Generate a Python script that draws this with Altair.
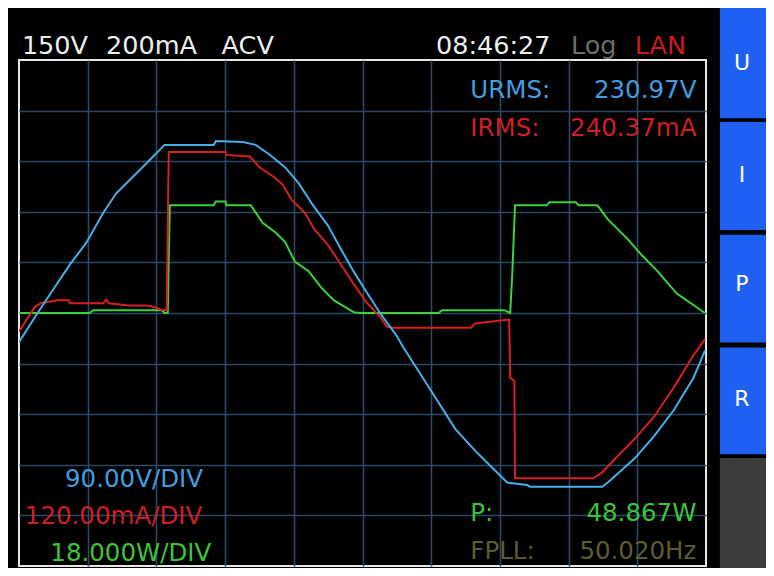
import altair as alt
import pandas as pd

# ---- scope settings (per division) ----
T_PER_DIV = 2.0      # ms / div
U_PER_DIV = 90.0     # V / div
I_PER_DIV = 120.0    # mA / div
P_PER_DIV = 18.0     # W / div

# ---- voltage trace (ms, V) ----
T_U = [0.0, 0.54, 1.03, 1.48, 1.97, 2.45, 2.82, 3.11, 3.48, 3.87, 4.24, 5.67, 5.73, 6.52,
       6.89, 7.29, 7.75, 8.15, 8.52, 9.00, 9.37, 9.74, 10.14, 10.51, 11.00, 11.17, 11.94,
       12.71, 13.36, 14.22, 14.79, 14.87, 16.98, 17.15, 17.92, 18.49, 19.06, 19.63, 19.97]
U_V = [-52, 0, 45, 86, 126, 178, 212, 230, 252, 276, 299, 299, 306, 304,
       299, 282, 259, 230, 195, 155, 114, 74, 35, 0, -41, -59, -133,
       -207, -250, -302, -306, -309, -309, -301, -259, -219, -173, -116, -67]

# ---- current trace (ms, mA) ----
T_I = [0.0, 0.46, 0.63, 1.11, 1.45, 1.48, 2.45, 2.54, 2.62, 3.19, 3.68, 3.87, 4.16, 4.24,
       4.30, 4.36, 6.01, 6.04, 6.72, 7.01, 7.38, 7.66, 7.95, 8.32, 8.60, 9.00, 9.37, 9.74,
       10.14, 10.51, 10.71, 10.88, 13.16, 13.28, 14.22, 14.27, 14.30, 14.42, 14.44, 16.72,
       16.98, 17.36, 17.92, 18.49, 19.06, 19.63, 19.97]
I_MA = [-44, 14, 23, 30, 30, 23, 23, 32, 23, 18, 18, 16, 7, 7,
        7, 382, 382, 375, 371, 345, 325, 306, 267, 238, 198, 161, 115, 69,
        23, -9, -32, -35, -35, -25, -16, -16, -154, -161, -392, -392,
        -378, -345, -299, -246, -177, -101, -62]

# ---- power trace (ms, W) ----
T_P = [0.0, 2.05, 2.17, 4.16, 4.24, 4.33, 4.39, 5.67, 5.73, 6.01, 6.04, 6.75, 7.09, 7.46,
       7.75, 8.03, 8.43, 8.80, 9.17, 9.74, 9.94, 12.22, 12.31, 14.13, 14.30, 14.36, 14.44,
       15.36, 15.44, 16.21, 16.30, 16.84, 17.15, 17.72, 18.12, 18.58, 19.15, 19.97]
P_W = [0, 0, 1.0, 1.0, 0, 0, 38.3, 38.3, 39.7, 39.7, 38.3, 38.3, 32.1, 28.7,
       25.2, 18.3, 14.9, 9.0, 4.5, 0.3, 0, 0, 1.0, 1.0, 0, 13.8, 38.3,
       38.3, 39.4, 39.4, 38.3, 38.3, 33.2, 26.3, 20.7, 15.0, 6.9, 0]

BLUE = "#46aeea"
RED = "#d61f1f"
GREEN = "#3ad43a"
BLUE_TXT = "#3f9fe0"
RED_TXT = "#cf1f25"
GREEN_TXT = "#3cc43c"
OLIVE_TXT = "#5e5c30"
GRID = "#2b4966"
FONT = "DejaVu Sans"

rows = []
for name, ts, vs, per in (("P", T_P, P_W, P_PER_DIV),
                          ("I", T_I, I_MA, I_PER_DIV),
                          ("U", T_U, U_V, U_PER_DIV)):
    for k, (t, v) in enumerate(zip(ts, vs)):
        rows.append({"series": name, "t": t, "div": v / per, "k": k})
df = pd.DataFrame(rows)

W, H = 687, 506

x_enc = alt.X("t:Q", scale=alt.Scale(domain=[0, 10 * T_PER_DIV], nice=False, zero=False),
              axis=alt.Axis(values=[T_PER_DIV * i for i in range(1, 10)], grid=True,
                            gridColor=GRID, gridWidth=1.6, gridOpacity=1, domain=False,
                            ticks=False, labels=False, title=None))
y_enc = alt.Y("div:Q", scale=alt.Scale(domain=[-5, 5], nice=False, zero=False),
              axis=alt.Axis(values=list(range(-4, 5)), grid=True, gridColor=GRID,
                            gridWidth=1.6, gridOpacity=1, domain=False, ticks=False,
                            labels=False, title=None))

layers = []
for name, col in (("P", GREEN), ("I", RED), ("U", BLUE)):
    layers.append(
        alt.Chart(df).transform_filter(alt.datum.series == name)
        .mark_line(color=col, strokeWidth=2, clip=True)
        .encode(x=x_enc, y=y_enc, order="k:Q")
    )

one = pd.DataFrame({"a": [0]})


def txt(s, x, y, color, size, align="left", baseline="alphabetic"):
    return alt.Chart(one).mark_text(text=s, align=align, baseline=baseline, font=FONT,
                                    fontSize=size, color=color).encode(
        x=alt.value(x), y=alt.value(y))


def box(x1, x2, y1, y2, color):
    return alt.Chart(one).mark_rect(color=color).encode(
        x=alt.value(x1), x2=alt.value(x2), y=alt.value(y1), y2=alt.value(y2))


HS = 25.5
PS = 24.5
texts = [
    txt("150V", 2.9, -6, "#eeeeee", HS),
    txt("200mA", 87.1, -6, "#eeeeee", HS),
    txt("ACV", 202.6, -6, "#eeeeee", HS),
    txt("08:46:27", 417, -6, "#eeeeee", HS),
    txt("Log", 552, -6, "#6e6e6e", HS),
    txt("LAN", 615.8, -6, "#cc1a1a", HS),
    txt("URMS:", 451.3, 37.9, BLUE_TXT, PS),
    txt("230.97V", 677.4, 37.9, BLUE_TXT, PS, "right"),
    txt("IRMS:", 451.3, 75.8, RED_TXT, PS),
    txt("240.37mA", 677.4, 75.8, RED_TXT, PS, "right"),
    txt("90.00V/DIV", 46, 426.5, BLUE_TXT, PS),
    txt("120.00mA/DIV", 5.8, 464, RED_TXT, PS),
    txt("18.000W/DIV", 31.3, 501, GREEN_TXT, PS),
    txt("P:", 451.3, 461.2, GREEN_TXT, PS),
    txt("48.867W", 677.4, 461.2, GREEN_TXT, PS, "right"),
    txt("FPLL:", 451.3, 499, OLIVE_TXT, PS),
    txt("50.020Hz", 677.4, 499, OLIVE_TXT, PS, "right"),
]

SB = "#1f5ff2"
side = [
    box(700.9, 747, -52, 58.2, SB),
    box(700.9, 747, 62.1, 169.9, SB),
    box(700.9, 747, 174.7, 282.5, SB),
    box(700.9, 747, 287.4, 394.2, SB),
    box(700.9, 747, 398.1, 508, "#3c3c3c"),
    txt("U", 723, 2.9, "#ffffff", 22, "center", "middle"),
    txt("I", 723, 114.5, "#ffffff", 22, "center", "middle"),
    txt("P", 723, 224.3, "#ffffff", 22, "center", "middle"),
    txt("R", 723, 338.8, "#ffffff", 22, "center", "middle"),
]

chart = alt.layer(*layers, *texts, *side).properties(
    width=W, height=H,
    autosize=alt.AutoSizeParams(type="none"),
    padding={"left": 11, "top": 52, "right": 60, "bottom": 2},
).configure(background="#000000").configure_view(stroke="#e6e6e6", strokeWidth=2)

chart.save("out.html", embed_options={"renderer": "svg", "actions": False})
